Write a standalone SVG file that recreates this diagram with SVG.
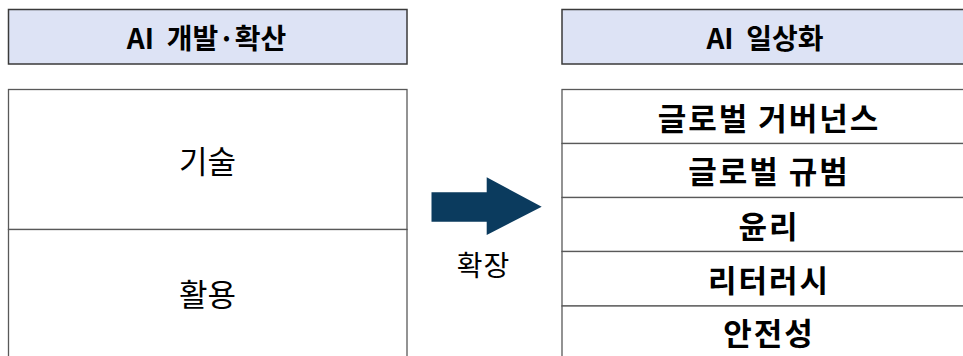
<svg xmlns="http://www.w3.org/2000/svg" width="963" height="356" viewBox="0 0 963 356">
<style>
.hdr{fill:#dde3f5;stroke:#3a3a3a;stroke-width:1.5}
.box{fill:#ffffff;stroke:#595959;stroke-width:1.3}
.ht{font-family:"Noto Sans CJK KR","Noto Sans",sans-serif;font-weight:bold;font-size:28px;fill:#000;text-anchor:middle;dominant-baseline:central}
.bt{font-family:"Noto Sans CJK KR","Noto Sans",sans-serif;font-weight:bold;font-size:31px;letter-spacing:2px;fill:#000;text-anchor:middle;dominant-baseline:central}
.rt{font-family:"Noto Sans CJK KR","Noto Sans",sans-serif;font-size:31px;fill:#000;text-anchor:middle;dominant-baseline:central}
.lt{font-family:"Noto Sans CJK KR","Noto Sans",sans-serif;font-size:28px;letter-spacing:1px;fill:#000;text-anchor:middle;dominant-baseline:central}
</style>
<rect width="963" height="356" fill="#ffffff"/>
<g id="hdr-left"><rect class="hdr" x="8.5" y="9.5" width="398.5" height="54.5"/><text class="ht" x="206.5" y="37" xml:space="preserve">AI  개발·확산</text></g>
<g id="hdr-right"><rect class="hdr" x="562" y="9.5" width="410" height="54.5"/><text class="ht" x="765" y="37" xml:space="preserve">AI  일상화</text></g>
<g id="left-tech"><rect class="box" x="8.5" y="89.5" width="398.5" height="140"/><text class="rt" x="207.5" y="159.5">기술</text></g>
<g id="left-use"><rect class="box" x="8.5" y="229.5" width="398.5" height="140"/><text class="rt" x="207.5" y="292.5">활용</text></g>
<g id="r1"><rect class="box" x="562" y="89.5" width="410" height="54"/><text class="bt" x="769" y="116">글로벌 거버넌스</text></g>
<g id="r2"><rect class="box" x="562" y="143.5" width="410" height="54"/><text class="bt" x="769" y="169.5">글로벌 규범</text></g>
<g id="r3"><rect class="box" x="562" y="197.5" width="410" height="54"/><text class="bt" x="769" y="224.5">윤리</text></g>
<g id="r4"><rect class="box" x="562" y="251.5" width="410" height="54.5"/><text class="bt" x="769" y="278.5">리터러시</text></g>
<g id="r5"><rect class="box" x="562" y="306" width="410" height="60"/><text class="bt" x="769" y="331.5">안전성</text></g>
<g id="connectors">
<path d="M431.5,192.3 H486.7 V177.3 L541.7,206.7 L486.7,235 V221.7 H431.5 Z" fill="#0b3b5e"/>
<text class="lt" x="483.5" y="264">확장</text>
</g>
</svg>
